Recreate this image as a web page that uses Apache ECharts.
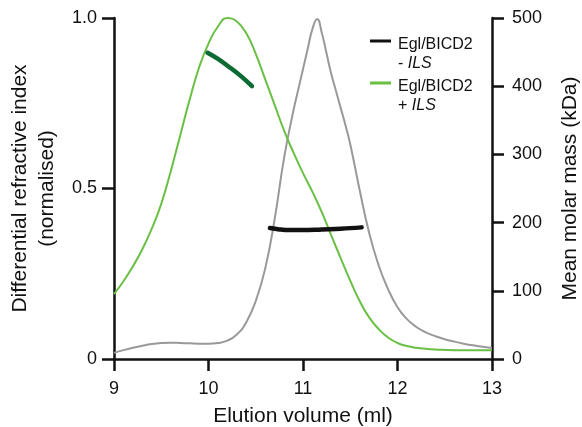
<!DOCTYPE html>
<html><head><meta charset="utf-8">
<script src="https://cdn.jsdelivr.net/npm/echarts@6/dist/echarts.min.js"></script>
<style>html,body{margin:0;padding:0;background:#fff}#c{width:582px;height:427px}</style>
</head><body><div id="c"></div>
<script>
// Elution volumes (ml) for the dRI traces
const volMinusILS = [9.0,9.1,9.2,9.3,9.4,9.5,9.6,9.7,9.8,9.9,10.0,10.1,10.2,10.3,10.4,10.5,10.6,10.7,10.8,10.9,10.95,11.0,11.05,11.1,11.15,11.2,11.25,11.3,11.35,11.4,11.45,11.5,11.6,11.7,11.8,11.9,12.0,12.1,12.2,12.3,12.4,12.5,12.6,12.7,12.8,12.9,13.0];
const driMinusILS = [0.018,0.026,0.033,0.039,0.044,0.047,0.048,0.047,0.046,0.045,0.045,0.047,0.054,0.072,0.108,0.17,0.265,0.41,0.59,0.73,0.79,0.85,0.91,0.968,0.997,0.955,0.895,0.835,0.785,0.735,0.685,0.63,0.495,0.37,0.275,0.205,0.152,0.117,0.094,0.078,0.067,0.058,0.051,0.045,0.04,0.036,0.032];
const volPlusILS = [9.0,9.1,9.2,9.3,9.4,9.5,9.6,9.7,9.8,9.9,10.0,10.1,10.2,10.3,10.4,10.5,10.6,10.7,10.8,10.9,11.0,11.1,11.2,11.3,11.4,11.5,11.6,11.7,11.8,11.9,12.0,12.1,12.2,12.3,12.4,12.6,12.8,13.0];
const driPlusILS = [0.19,0.228,0.272,0.322,0.382,0.455,0.55,0.655,0.76,0.855,0.925,0.975,1.0,0.99,0.955,0.895,0.82,0.745,0.67,0.605,0.545,0.49,0.43,0.362,0.295,0.23,0.17,0.122,0.088,0.063,0.047,0.038,0.033,0.03,0.028,0.026,0.026,0.026];
// Mean molar mass (kDa) from MALS
const massVolMinusILS = [10.65,10.75,10.85,11.0,11.2,11.4,11.62];
const massMinusILS = [192,190,189,189,190,191,193];
const massVolPlusILS = [9.99,10.1,10.23,10.35,10.46];
const massPlusILS = [449,440,427,414,400];
// Axis ticks
const xTicks = [9,10,11,12,13];
const leftTicks = [0,0.5,1.0];
const rightTicks = [0,100,200,300,400,500];

const zip = (a,b) => a.map((v,i) => [v,b[i]]);
const FONT = 'Liberation Sans, Arial, Helvetica, sans-serif';
const AX = '#111';
const nameA = 'Egl/BICD2 - ILS', nameB = 'Egl/BICD2 + ILS';

const axisCommon = {
  axisLine: {show: true, onZero: false, lineStyle: {color: AX, width: 2.5}},
  axisTick: {show: true, length: 12, lineStyle: {color: AX, width: 2.5}},
  splitLine: {show: false},
  nameLocation: 'middle',
  nameTextStyle: {fontFamily: FONT, fontSize: 21, color: '#111'}
};

const chart = echarts.init(document.getElementById('c'), null, {renderer: 'canvas'});
chart.setOption({
  animation: false,
  backgroundColor: '#fff',
  grid: {left: 114, right: 90, top: 18, bottom: 68, containLabel: false, outerBoundsMode: 'none'},
  legend: {
    orient: 'vertical', left: 365, top: 32, itemGap: 7,
    itemWidth: 21, itemHeight: 38,
    data: [
      {name: nameA, icon: 'path://M0,8H21V11H0Z M21,38'},
      {name: nameB, icon: 'path://M0,8H21V11H0Z M21,38'}
    ],
    itemStyle: {borderWidth: 0},
    formatter: n => n === nameA ? '{n|Egl/BICD2}\n{n|- }{i|ILS}' : '{n|Egl/BICD2}\n{n|+ }{i|ILS}',
    textStyle: {fontFamily: FONT, fontSize: 16, color: '#111', padding: [0,0,0,2],
      rich: {n: {fontFamily: FONT, fontSize: 16, lineHeight: 19, color: '#111'},
             i: {fontFamily: FONT, fontSize: 16, lineHeight: 19, fontStyle: 'italic', color: '#111'}}}
  },
  xAxis: Object.assign({}, axisCommon, {
    type: 'value', min: xTicks[0], max: xTicks[xTicks.length-1], interval: 1,
    name: 'Elution volume (ml)', nameGap: 47,
    axisLabel: {fontFamily: FONT, fontSize: 18, color: '#111', margin: 21}
  }),
  yAxis: [
    Object.assign({}, axisCommon, {
      type: 'value', min: leftTicks[0], max: leftTicks[leftTicks.length-1], interval: 0.5,
      name: 'Differential refractive index\n(normalised)', nameGap: 44,
      nameTextStyle: {fontFamily: FONT, fontSize: 21, lineHeight: 27, color: '#111'},
      axisLabel: {fontFamily: FONT, fontSize: 18, color: '#111', margin: 17,
        formatter: v => v === 0 ? '0' : v.toFixed(1)}
    }),
    Object.assign({}, axisCommon, {
      type: 'value', position: 'right', min: rightTicks[0], max: rightTicks[rightTicks.length-1], interval: 100,
      name: 'Mean molar mass (kDa)', nameGap: 68,
      axisLabel: {fontFamily: FONT, fontSize: 18, color: '#111', margin: 20}
    })
  ],
  series: [
    {name: 'dRI - ILS', type: 'line', data: zip(volMinusILS, driMinusILS), smooth: 0.5, showSymbol: false,
     color: '#999999', lineStyle: {color: '#999999', width: 2}, z: 2},
    {name: nameB, type: 'line', data: zip(volPlusILS, driPlusILS), smooth: 0.5, showSymbol: false,
     color: '#6abf45', lineStyle: {color: '#6abf45', width: 2}, z: 3},
    {name: nameA, type: 'line', yAxisIndex: 1, data: zip(massVolMinusILS, massMinusILS), smooth: 0.4, showSymbol: false,
     color: '#111111', lineStyle: {color: '#111111', width: 4.5, cap: 'round'}, z: 4},
    {name: 'mass + ILS', type: 'line', yAxisIndex: 1, data: zip(massVolPlusILS, massPlusILS), smooth: 0.4, showSymbol: false,
     color: '#0b6b33', lineStyle: {color: '#0b6b33', width: 4.5, cap: 'round'}, z: 4}
  ]
});
</script></body></html>
